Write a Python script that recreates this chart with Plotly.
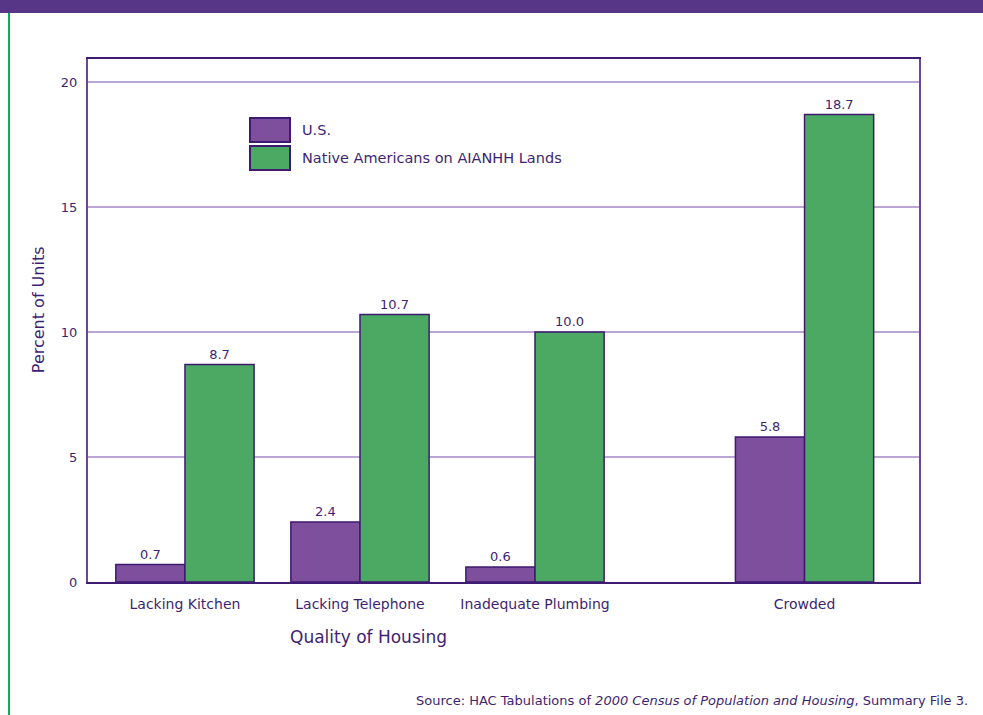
import plotly.graph_objects as go

categories = ["Lacking Kitchen", "Lacking Telephone", "Inadequate Plumbing", "Crowded"]
us_values = [0.7, 2.4, 0.6, 5.8]
native_values = [8.7, 10.7, 10.0, 18.7]
series_names = ["U.S.", "Native Americans on AIANHH Lands"]
y_ticks = [0, 5, 10, 15, 20]

# layout: horizontal placement of category groups (Crowded set apart)
group_pos = [0, 1, 2, 3.54]

PURPLE = "#7D4F9D"
GREEN = "#4BA963"
OUTLINE = "#3E1A70"
TEXT = "#3E1F72"
FONT = "DejaVu Sans, Liberation Sans, Arial, sans-serif"

fig = go.Figure()
for name, vals, col, off in [(series_names[0], us_values, PURPLE, -0.1975),
                             (series_names[1], native_values, GREEN, 0.1975)]:
    fig.add_trace(go.Bar(
        x=group_pos, y=vals, name=name, width=0.395, offset=off - 0.1975,
        marker=dict(color=col, line=dict(color=OUTLINE, width=1.5)),
        text=[f"{v:.1f}" for v in vals], textposition="outside",
        textfont=dict(family=FONT, size=13, color=TEXT), cliponaxis=False,
        showlegend=False,
    ))

fig.update_layout(
    width=983, height=715,
    margin=dict(l=88, r=64, t=59, b=133),
    paper_bgcolor="white", plot_bgcolor="white",
    font=dict(family=FONT, color=TEXT),
    barmode="overlay",
    xaxis=dict(range=[-0.554, 4.194], tickvals=group_pos, ticktext=categories,
               tickfont=dict(size=14, color=TEXT), ticks="", showgrid=False,
               showline=True, linecolor="#3F1C73", linewidth=2, mirror=True,
               ticklabelstandoff=8, zeroline=False),
    yaxis=dict(range=[0, 20.92], tickvals=y_ticks, tickfont=dict(size=13, color=TEXT),
               showgrid=True, gridcolor="#BBA5D4", gridwidth=2, ticks="",
               showline=True, linecolor="#6A45A0", linewidth=2, mirror=True,
               zeroline=False, ticklabelstandoff=6),
)

# axis titles
fig.add_annotation(text="Percent of Units", textangle=-90, xref="paper", yref="paper",
                   x=-0.06, y=0.52, xanchor="center", yanchor="middle", showarrow=False,
                   font=dict(size=16, color=TEXT))
fig.add_annotation(text="Quality of Housing", xref="paper", yref="paper",
                   x=0.337, y=-0.105, xanchor="center", yanchor="middle", showarrow=False,
                   font=dict(size=17, color=TEXT))

# custom legend
for i, (name, col) in enumerate(zip(series_names, [PURPLE, GREEN])):
    y_top = 118 + i * 28
    fig.add_shape(type="rect", xref="paper", yref="paper",
                  x0=(250 - 88) / 831, x1=(290 - 88) / 831,
                  y0=(582 - y_top) / 523, y1=(582 - y_top - 24) / 523,
                  fillcolor=col, line=dict(color=OUTLINE, width=2))
    fig.add_annotation(text=name, xref="paper", yref="paper",
                       x=(300 - 88) / 831, y=(582 - y_top - 12) / 523,
                       xanchor="left", yanchor="middle", showarrow=False,
                       font=dict(size=14.5, color=TEXT))

# source note
fig.add_annotation(
    text="Source: HAC Tabulations of <i>2000 Census of Population and Housing</i>, Summary File 3.",
    xref="paper", yref="paper", x=(970 - 88) / 831, y=(582 - 700) / 523,
    xanchor="right", yanchor="middle", showarrow=False, font=dict(size=13, color=TEXT))

# header band and left border
fig.add_shape(type="rect", xref="paper", yref="paper",
              x0=-88 / 831, x1=(983 - 88) / 831, y0=(582 - 0) / 523, y1=(582 - 13) / 523,
              fillcolor="#573687", line=dict(width=0), layer="above")
fig.add_shape(type="line", xref="paper", yref="paper",
              x0=(9 - 88) / 831, x1=(9 - 88) / 831, y0=(582 - 13) / 523, y1=(582 - 715) / 523,
              line=dict(color="#13A85A", width=2))

fig.write_html("out.html")
